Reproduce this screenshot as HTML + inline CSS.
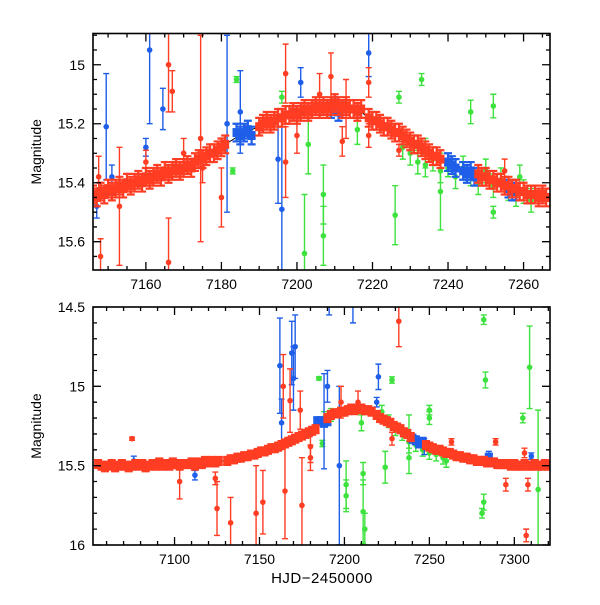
<!DOCTYPE html>
<html><head><meta charset="utf-8"><style>
html,body{margin:0;padding:0;background:#fff;}
svg text{font-family:"Liberation Sans",sans-serif;fill:#000;}
</style></head><body>
<svg id="chart" width="600" height="600" viewBox="0 0 600 600" xmlns="http://www.w3.org/2000/svg"></svg>
<script>
// ---------- TOP PANEL DATA ----------
const topRedBandX = [7146,7147,7148,7149,7150,7151,7152,7153,7154,7155,7156,7157,7158,7159,7160,7161,7162,7163,7164,7165,7166,7167,7168,7169,7170,7171,7172,
 7173,7174,7175,7176,7177,7178,7179,7180,7181,
 7190,7191,7192,7193,7194,7195,
 7196,7197,7198,7199,7200,7201,7202,7203,7204,7205,7206,7207,7208,7209,7210,7211,7212,7213,7214,7215,7216,7217,
 7219,7220,7221,7222,7223,7224,7225,7226,7227,7228,7229,7230,7231,7232,7233,7234,7235,7236,7237,7238,
 7248,7249,7250,7251,7252,7253,7254,7255,7256,7257,7258,7259,7260,7261,7262,7263,7264,7265,7266];
const topRedBandY = [15.44,15.45,15.43,15.44,15.42,15.43,15.42,15.41,15.42,15.40,15.41,15.40,15.39,15.40,15.38,15.39,15.38,15.37,15.38,15.36,15.37,15.36,15.35,15.36,15.35,15.34,15.35,
 15.33,15.32,15.32,15.31,15.30,15.30,15.29,15.28,15.27,
 15.21,15.20,15.19,15.20,15.19,15.18,
 15.18,15.17,15.17,15.16,15.17,15.16,15.15,15.16,15.15,15.14,15.15,15.14,15.15,15.14,15.13,15.14,15.15,15.14,15.15,15.15,15.16,15.15,
 15.18,15.19,15.19,15.20,15.21,15.21,15.22,15.23,15.23,15.24,15.25,15.26,15.27,15.27,15.28,15.29,15.30,15.31,15.31,15.32,
 15.37,15.38,15.38,15.39,15.39,15.40,15.40,15.41,15.41,15.42,15.42,15.43,15.43,15.44,15.44,15.44,15.45,15.44,15.45];
const topRedOutX = [7147.5,7148,7153,7166,7166,7167,7175,7180,7174.5,7197,7197,7200,7206,7209,7212,7213,7219,7219,7227,7255,7160,7170];
const topRedOutY = [15.38,15.65,15.48,15.0,15.67,15.09,15.35,15.45,15.25,15.03,15.33,15.24,15.10,15.04,15.26,15.15,15.06,15.24,15.29,15.36,15.33,15.30];
const topRedOutE = [0.07,0.06,0.20,0.16,0.15,0.07,0.05,0.10,0.35,0.10,0.12,0.06,0.07,0.08,0.05,0.10,0.05,0.04,0.02,0.04,0.04,0.05];
const topBlueBandX = [7184,7185,7186,7187,7188,7209,7210,7211,7212,7240,7241,7242,7244,7245,7246,7247,7256,7257,7258];
const topBlueBandY = [15.23,15.24,15.23,15.22,15.24,15.15,15.14,15.16,15.15,15.33,15.34,15.35,15.36,15.37,15.36,15.38,15.42,15.43,15.43];
const topBlueOutX = [7149.5,7151,7161,7164.5,7181.5,7185,7195,7196,7201,7219,7147,7160];
const topBlueOutY = [15.21,15.38,14.95,15.15,15.20,15.16,15.32,15.49,15.06,14.96,15.48,15.28];
const topBlueOutE = [0.18,0.04,0.25,0.07,0.30,0.14,0.15,0.30,0.05,0.08,0.04,0.03];
const topGreenX = [7183,7184,7196,7202,7203,7207,7207,7216,7226,7227,7233,7234,7238,7240,7246,7252,7252,7259,
 7228,7230,7232,7234,7236,7238,7240,7242,7244,7246,7248,7250,7252,7254,7256,7258,7260,7262];
const topGreenY = [15.36,15.05,15.11,15.64,15.27,15.58,15.44,15.22,15.51,15.11,15.05,15.30,15.43,15.35,15.16,15.14,15.50,15.38,
 15.28,15.30,15.33,15.34,15.32,15.36,15.34,15.38,15.35,15.37,15.40,15.36,15.41,15.39,15.42,15.44,15.43,15.46];
const topGreenE = [0.01,0.01,0.02,0.20,0.10,0.10,0.10,0.05,0.10,0.02,0.02,0.05,0.13,0.03,0.04,0.04,0.02,0.04,
 0.04,0.04,0.04,0.04,0.04,0.04,0.04,0.04,0.04,0.04,0.04,0.04,0.04,0.04,0.04,0.04,0.04,0.04];
const topModelX = [7146,7160,7172,7181,7186,7190,7196,7205,7212,7217,7219,7228,7238,7244,7250,7258,7266];
const topModelY = [15.44,15.38,15.35,15.27,15.23,15.21,15.18,15.15,15.14,15.16,15.18,15.24,15.32,15.35,15.38,15.42,15.45];
const topXTicks = [7160,7180,7200,7220,7240,7260];
const topYTicks = [15,15.2,15.4,15.6];
const topYLabels = ["15","15.2","15.4","15.6"];

// ---------- BOTTOM PANEL DATA ----------
const botRedBandX = [7055,7057,7059,7061,7063,7065,7067,7069,7071,7073,7075,7077,7079,7081,7083,7085,7087,7089,7091,7093,7095,7097,7099,7101,7103,7105,
 7108,7110,7112,7114,7116,7118,7120,7122,7124,7126,
 7131,7133,7135,7137,7139,7141,7143,7145,7147,7149,7151,7153,7155,7157,7159,7161,7163,7165,7167,7169,7171,7173,7175,7177,7179,7181,7183,
 7190,7192,7194,7196,7198,7200,7202,7204,7206,7208,7210,7212,7214,7216,
 7219,7221,7223,7225,7227,7229,7231,7233,7235,7237,7239,
 7248,7250,7252,7254,7256,7258,7260,7262,7264,7266,7268,7270,7272,7274,7276,7278,7280,7282,7284,7286,7288,7290,7292,7294,7296,7298,7300,7302,7304,7306,7308,7310,7312,7314,7316,7318,7320];
const botRedBandY = [15.49,15.50,15.51,15.50,15.49,15.51,15.50,15.49,15.50,15.51,15.50,15.49,15.50,15.49,15.51,15.50,15.49,15.50,15.48,15.50,15.49,15.50,15.48,15.49,15.50,15.49,
 15.49,15.48,15.50,15.48,15.49,15.47,15.48,15.47,15.48,15.47,
 15.47,15.46,15.46,15.45,15.45,15.44,15.44,15.43,15.43,15.42,15.41,15.41,15.40,15.39,15.39,15.38,15.37,15.36,15.35,15.34,15.33,15.32,15.31,15.30,15.29,15.28,15.27,
 15.20,15.18,15.17,15.17,15.16,15.16,15.15,15.14,15.15,15.14,15.14,15.15,15.15,15.16,
 15.18,15.20,15.21,15.22,15.23,15.25,15.26,15.27,15.29,15.30,15.32,
 15.37,15.38,15.39,15.40,15.40,15.41,15.42,15.42,15.43,15.44,15.44,15.45,15.45,15.46,15.46,15.47,15.47,15.47,15.48,15.48,15.48,15.49,15.49,15.49,15.49,15.50,15.49,15.50,15.50,15.49,15.50,15.50,15.49,15.50,15.50,15.49,15.50];
const botRedOutX = [7075,7103,7125,7124,7133,7148,7152,7164,7165,7168,7174,7175,7180,7180,7198,7208,7232,7228,7263,7289,7295,7306,7308,7307];
const botRedOutY = [15.33,15.60,15.77,15.58,15.86,15.80,15.73,15.00,15.66,15.09,15.15,15.75,15.38,15.45,15.10,15.10,14.59,15.33,15.35,15.35,15.62,15.42,15.62,15.94];
const botRedOutE = [0.01,0.11,0.17,0.04,0.16,0.30,0.20,0.20,0.30,0.20,0.12,0.30,0.10,0.08,0.10,0.07,0.16,0.04,0.02,0.02,0.04,0.03,0.04,0.04];
const botBlueBandX = [7184,7186,7188,7190,7240,7242,7244,7246,7283,7285];
const botBlueBandY = [15.22,15.22,15.23,15.22,15.33,15.34,15.36,15.35,15.47,15.45];
const botBlueOutX = [7076,7112,7162,7163,7169,7171,7170,7188,7191,7197,7205,7220,7219,7190,7247,7285,7310];
const botBlueOutY = [15.47,15.56,14.87,15.23,14.79,14.75,14.95,15.22,14.35,15.50,14.40,14.94,15.10,15.00,15.38,15.44,15.44];
const botBlueOutE = [0.03,0.03,0.30,0.15,0.20,0.20,0.20,0.30,0.20,0.50,0.20,0.08,0.03,0.10,0.05,0.03,0.02];
const botGreenX = [7185,7187,7201,7201,7210,7211,7211,7212,7224,7228,7238,7238,7250,7250,7281,7282,7282,7283,7305,7309,7314,
 7188,7192,7222,7226,7230,7234,7238,7242,7246,7250,7254,7258,7260];
const botGreenY = [14.95,15.36,15.62,15.69,15.23,15.55,15.79,15.90,15.51,14.96,15.30,15.45,15.15,15.20,15.80,15.73,14.58,14.96,15.20,14.88,15.65,
 15.20,15.18,15.16,15.22,15.27,15.30,15.35,15.37,15.40,15.42,15.43,15.45,15.47];
const botGreenE = [0.01,0.02,0.15,0.10,0.05,0.07,0.20,0.10,0.10,0.02,0.12,0.10,0.03,0.04,0.03,0.05,0.03,0.05,0.03,0.26,0.50,
 0.04,0.04,0.04,0.04,0.04,0.04,0.04,0.04,0.04,0.04,0.04,0.04,0.04];
const botModelX = [7052,7105,7130,7160,7183,7190,7205,7216,7219,7230,7240,7250,7270,7290,7321];
const botModelY = [15.50,15.49,15.47,15.39,15.27,15.20,15.15,15.16,15.18,15.26,15.33,15.38,15.45,15.49,15.50];
const botXTicks = [7100,7150,7200,7250,7300];
const botYTicks = [14.5,15,15.5,16];
const botYLabels = ["14.5","15","15.5","16"];

const RED="#ff3d23", BLUE="#1f5ee8", GREEN="#3ee23e";
const svg=document.getElementById('chart');
const NS="http://www.w3.org/2000/svg";
function mk(tag,attrs,parent){const e=document.createElementNS(NS,tag);for(const k in attrs)e.setAttribute(k,attrs[k]);(parent||svg).appendChild(e);return e;}

function panel(cfg){
  const g=mk('g',{});
  
  
  const sx=v=>cfg.x0+(v-cfg.xmin)/(cfg.xmax-cfg.xmin)*(cfg.x1-cfg.x0);
  const sy=v=>cfg.y0+(v-cfg.ymin)/(cfg.ymax-cfg.ymin)*(cfg.y1-cfg.y0);
  const clip='clip-'+cfg.name;
  const cp=mk('clipPath',{id:clip},g);
  mk('rect',{x:cfg.x0,y:cfg.y0,width:cfg.x1-cfg.x0,height:cfg.y1-cfg.y0},cp);
  const dg=mk('g',{'clip-path':'url(#'+clip+')'},g);
  const ml=mk('polyline',{points:cfg.modelX.map((x,i)=>sx(x)+','+sy(cfg.modelY[i])).join(' '),fill:'none',stroke:'#000','stroke-width':1},dg);
  
  
  function series(xs,ys,es,color,shape,name){
    const sg=mk('g',{},dg);
    
    
    xs.forEach((x,i)=>{
      const px=sx(x),py=sy(ys[i]),e=es?es[i]:cfg.bandErr;
      const ya=sy(ys[i]-e),yb=sy(ys[i]+e);
      const cw=shape==='sq'?4:3;
      mk('path',{d:`M${px},${ya}V${yb}M${px-cw},${ya}H${px+cw}M${px-cw},${yb}H${px+cw}`,stroke:color,'stroke-width':shape==='sq'?2.2:1.4,fill:'none'},sg);
      let m;
      if(shape==='sq') m=mk('rect',{x:px-4,y:py-4.5,width:8,height:9,fill:color},sg);
      else m=mk('circle',{cx:px,cy:py,r:2.8,fill:color},sg);
      
      
    });
  }
  series(cfg.greenX,cfg.greenY,cfg.greenE,GREEN,'c','green-series');
  series(cfg.blueBandX,cfg.blueBandY,null,BLUE,'sq','blue-band');
  series(cfg.blueOutX,cfg.blueOutY,cfg.blueOutE,BLUE,'c','blue-outliers');
  series(cfg.redBandX,cfg.redBandY,null,RED,'sq','red-band');
  series(cfg.redOutX,cfg.redOutY,cfg.redOutE,RED,'c','red-outliers');
  const fr=mk('rect',{x:cfg.x0,y:cfg.y0,width:cfg.x1-cfg.x0,height:cfg.y1-cfg.y0,fill:'none',stroke:'#000','stroke-width':1.6},g);
  
  
  let d='';
  for(let v=Math.ceil(cfg.xmin/cfg.xminor)*cfg.xminor;v<=cfg.xmax;v+=cfg.xminor){
    const px=sx(v);const major=Math.abs(v/cfg.xmajor-Math.round(v/cfg.xmajor))<1e-6;const L=major?8:4;
    d+=`M${px},${cfg.y1}v${-L}M${px},${cfg.y0}v${L}`;
  }
  for(let k=Math.ceil(cfg.ymin/cfg.yminor-1e-6);k*cfg.yminor<=cfg.ymax+1e-9;k++){
    const v=k*cfg.yminor;const py=sy(v);const major=Math.abs(v/cfg.ymajor-Math.round(v/cfg.ymajor))<1e-6;const L=major?8:4;
    d+=`M${cfg.x0},${py}h${L}M${cfg.x1},${py}h${-L}`;
  }
  mk('path',{d:d,stroke:'#000','stroke-width':1.3,fill:'none'},g);
  cfg.xTicks.forEach(v=>{
    const t=mk('text',{x:sx(v),y:cfg.y1+19,'text-anchor':'middle','font-size':14},g);
    t.textContent=String(v);
    
    
  });
  cfg.yTicks.forEach((v,i)=>{
    const t=mk('text',{x:cfg.x0-8,y:sy(v)+5,'text-anchor':'end','font-size':14},g);
    t.textContent=cfg.yLabels[i];
    
    
  });
  const yt=mk('text',{x:0,y:0,'text-anchor':'middle','font-size':14,transform:`translate(41,${(cfg.y0+cfg.y1)/2}) rotate(-90)`},g);
  yt.textContent='Magnitude';
  
  
}

panel({name:'top-panel',x0:93,x1:550,y0:33.5,y1:270,xmin:7146,xmax:7267,ymin:14.894,ymax:15.696,
  xminor:5,xmajor:20,yminor:0.05,ymajor:0.2,bandErr:0.03,
  redBandX:topRedBandX,redBandY:topRedBandY,redOutX:topRedOutX,redOutY:topRedOutY,redOutE:topRedOutE,
  blueBandX:topBlueBandX,blueBandY:topBlueBandY,blueOutX:topBlueOutX,blueOutY:topBlueOutY,blueOutE:topBlueOutE,
  greenX:topGreenX,greenY:topGreenY,greenE:topGreenE,modelX:topModelX,modelY:topModelY,
  xTicks:topXTicks,yTicks:topYTicks,yLabels:topYLabels});
panel({name:'bottom-panel',x0:93,x1:550,y0:307,y1:545,xmin:7052,xmax:7321,ymin:14.5,ymax:16,
  xminor:10,xmajor:50,yminor:0.1,ymajor:0.5,bandErr:0.025,
  redBandX:botRedBandX,redBandY:botRedBandY,redOutX:botRedOutX,redOutY:botRedOutY,redOutE:botRedOutE,
  blueBandX:botBlueBandX,blueBandY:botBlueBandY,blueOutX:botBlueOutX,blueOutY:botBlueOutY,blueOutE:botBlueOutE,
  greenX:botGreenX,greenY:botGreenY,greenE:botGreenE,modelX:botModelX,modelY:botModelY,
  xTicks:botXTicks,yTicks:botYTicks,yLabels:botYLabels});

const xt=mk('text',{x:322,y:583,'text-anchor':'middle','font-size':15,'letter-spacing':'0.5'});
xt.textContent='HJD\u22122450000';


</script>
</body></html>
